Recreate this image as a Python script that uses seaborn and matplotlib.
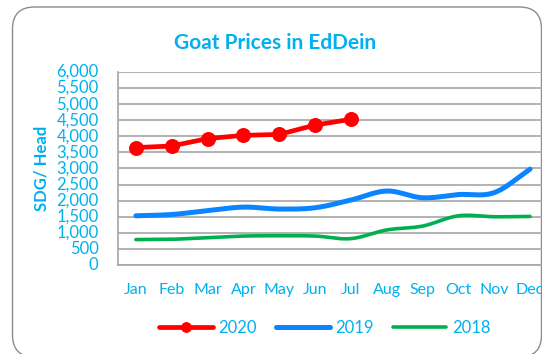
import numpy as np
import pandas as pd
import matplotlib
matplotlib.use("Agg")
import matplotlib.pyplot as plt
from matplotlib.patches import FancyBboxPatch
from matplotlib.transforms import IdentityTransform
import seaborn as sns

months = ["Jan", "Feb", "Mar", "Apr", "May", "Jun", "Jul", "Aug", "Sep", "Oct", "Nov", "Dec"]
prices_2020 = [3650, 3700, 3930, 4030, 4060, 4350, 4530]
prices_2019 = [1530, 1570, 1690, 1800, 1740, 1780, 2020, 2300, 2090, 2190, 2250, 2980]
prices_2018 = [790, 800, 850, 900, 910, 900, 820, 1090, 1210, 1530, 1500, 1510]
y_ticks = list(range(0, 6001, 500))

CYAN = "#00B0F0"
RED = "#FF0000"
BLUE = "#0A84FF"
GREEN = "#00B050"
GRID = "#A6A6A6"

sns.set_theme(style="white")
plt.rcParams["font.family"] = ["Lato", "DejaVu Sans"]


def smooth(values, steps=20):
    """Catmull-Rom curve through the monthly points (spreadsheet-style smoothed line)."""
    v = np.asarray(values, dtype=float)
    n = len(v)
    p = np.concatenate([[2 * v[0] - v[1]], v, [2 * v[-1] - v[-2]]])
    xs, ys = [], []
    for i in range(n - 1):
        p0, p1, p2, p3 = p[i], p[i + 1], p[i + 2], p[i + 3]
        t = np.linspace(0, 1, steps, endpoint=(i == n - 2))
        y = 0.5 * ((2 * p1) + (-p0 + p2) * t + (2 * p0 - 5 * p1 + 4 * p2 - p3) * t ** 2
                   + (-p0 + 3 * p1 - 3 * p2 + p3) * t ** 3)
        xs.append(i + t)
        ys.append(y)
    return np.concatenate(xs), np.concatenate(ys)


fig = plt.figure(figsize=(5.42, 3.54), dpi=100)
W, H = 542, 354

# rounded chart frame, in pixel units
frame = FancyBboxPatch((12.5, -3), 541.5 - 12.5, (H - 7) + 3,
                       boxstyle="round,pad=0,rounding_size=22",
                       transform=IdentityTransform(), facecolor="white",
                       edgecolor="#8C8C8C", linewidth=1.0, zorder=-10)
fig.patches.append(frame)

ax = fig.add_axes([118 / W, (H - 265) / H, (548 - 118) / W, (265 - 72) / H])
ax.set_facecolor("none")

x18, y18 = smooth(prices_2018)
x19, y19 = smooth(prices_2019)
sns.lineplot(x=x18, y=y18, ax=ax, color=GREEN, linewidth=2.6, label="2018",
             sort=False, estimator=None)
sns.lineplot(x=x19, y=y19, ax=ax, color=BLUE, linewidth=3.6, label="2019",
             sort=False, estimator=None)
df20 = pd.DataFrame({"x": np.arange(len(prices_2020)), "y": prices_2020})
sns.lineplot(data=df20, x="x", y="y", ax=ax, color=RED, linewidth=3.4,
             marker="o", markersize=10, markeredgecolor=RED, label="2020")

ax.set_xlim(-0.5, 11.5)
ax.set_ylim(0, 6000)
ax.set_yticks(y_ticks)
ax.set_yticklabels([f"{v:,}" for v in y_ticks], color=CYAN, fontsize=12)
ax.set_xticks(range(len(months)))
ax.set_xticklabels(months, color=CYAN, fontsize=11.5)
ax.tick_params(axis="both", length=0)
ax.tick_params(axis="x", pad=13)
ax.tick_params(axis="y", pad=14)
for lbl in ax.get_yticklabels():
    lbl.set_verticalalignment("center")

ax.yaxis.grid(True, color=GRID, linewidth=1.2)
ax.xaxis.grid(False)
for side in ["top", "right"]:
    ax.spines[side].set_visible(False)
for side in ["left", "bottom"]:
    ax.spines[side].set_color(GRID)
    ax.spines[side].set_linewidth(1.2)
ax.set_xlabel("")
ax.set_ylabel("SDG/ Head", color=CYAN, fontsize=12, fontweight="bold", labelpad=5)

fig.text(275 / W, 1 - 43 / H, "Goat Prices in EdDein", color=CYAN, fontsize=15,
         fontweight="bold", ha="center", va="center")

handles, labels = ax.get_legend_handles_labels()
order = [labels.index("2020"), labels.index("2019"), labels.index("2018")]
leg = ax.legend([handles[i] for i in order], [labels[i] for i in order],
                loc="center", bbox_to_anchor=(325 / W, 1 - 328 / H),
                bbox_transform=fig.transFigure, ncol=3, frameon=False,
                fontsize=12, handlelength=3.2, handletextpad=0.35, columnspacing=1.15,
                markerscale=0.7)
for t in leg.get_texts():
    t.set_color(CYAN)

fig.savefig("out.png", dpi=100)
